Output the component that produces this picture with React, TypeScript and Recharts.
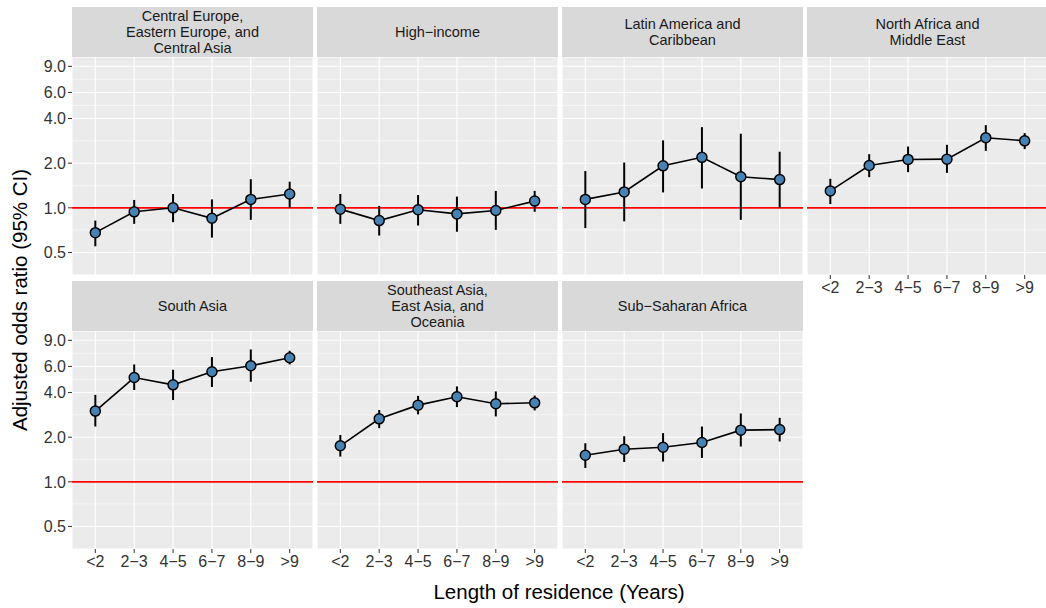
import React from 'react';
import {
  ComposedChart,
  Line,
  XAxis,
  YAxis,
  CartesianGrid,
  ReferenceLine,
  ErrorBar,
} from 'recharts';

// length of residence groups (x axis)
const CATEGORIES = ['<2', '2−3', '4−5', '6−7', '8−9', '>9'];
const Y_TICKS = [0.5, 1, 2, 4, 6, 9];
const Y_MINOR = [0.71, 1.41, 2.83, 4.9, 7.35];

// adjusted odds ratios and 95% CI per region
const ceeOR = [0.68, 0.94, 1.0, 0.85, 1.14, 1.24];
const ceeLo = [0.55, 0.78, 0.8, 0.63, 0.83, 1.0];
const ceeHi = [0.82, 1.13, 1.24, 1.14, 1.56, 1.5];

const hiOR = [0.98, 0.82, 0.97, 0.91, 0.96, 1.11];
const hiLo = [0.78, 0.65, 0.76, 0.69, 0.71, 0.94];
const hiHi = [1.24, 1.03, 1.22, 1.19, 1.3, 1.3];

const lacOR = [1.14, 1.28, 1.92, 2.19, 1.62, 1.55];
const lacLo = [0.73, 0.81, 1.27, 1.35, 0.83, 1.0];
const lacHi = [1.77, 2.02, 2.85, 3.5, 3.16, 2.39];

const nameOR = [1.3, 1.93, 2.12, 2.13, 2.97, 2.83];
const nameLo = [1.06, 1.61, 1.74, 1.72, 2.42, 2.49];
const nameHi = [1.57, 2.3, 2.59, 2.66, 3.61, 3.19];

const saOR = [3.0, 5.05, 4.51, 5.52, 6.06, 6.87];
const saLo = [2.36, 4.16, 3.56, 4.36, 4.73, 6.19];
const saHi = [3.86, 6.19, 5.7, 6.94, 7.81, 7.65];

const seaOR = [1.75, 2.66, 3.29, 3.75, 3.36, 3.41];
const seaLo = [1.48, 2.3, 2.85, 3.19, 2.76, 3.03];
const seaHi = [2.07, 3.05, 3.8, 4.4, 4.07, 3.82];

const ssaOR = [1.51, 1.66, 1.71, 1.84, 2.23, 2.25];
const ssaLo = [1.24, 1.36, 1.37, 1.45, 1.73, 1.87];
const ssaHi = [1.82, 2.03, 2.13, 2.36, 2.89, 2.7];

const PANELS = [
  { title: 'Central Europe,\nEastern Europe, and\nCentral Asia', or: ceeOR, lo: ceeLo, hi: ceeHi, col: 0, row: 0, showX: false },
  { title: 'High−income', or: hiOR, lo: hiLo, hi: hiHi, col: 1, row: 0, showX: false },
  { title: 'Latin America and\nCaribbean', or: lacOR, lo: lacLo, hi: lacHi, col: 2, row: 0, showX: false },
  { title: 'North Africa and\nMiddle East', or: nameOR, lo: nameLo, hi: nameHi, col: 3, row: 0, showX: true },
  { title: 'South Asia', or: saOR, lo: saLo, hi: saHi, col: 0, row: 1, showX: true },
  { title: 'Southeast Asia,\nEast Asia, and\nOceania', or: seaOR, lo: seaLo, hi: seaHi, col: 1, row: 1, showX: true },
  { title: 'Sub−Saharan Africa', or: ssaOR, lo: ssaLo, hi: ssaHi, col: 2, row: 1, showX: true },
];

const COL_LEFT = [72, 317, 562, 807];
const ROW_TOP = [57, 331];
const PANEL_W = 241;
const PANEL_H = 218;
const STRIP_H = 50;
const Y_AXIS_W = 44;
const X_AXIS_H = 30;

type PanelDef = (typeof PANELS)[number];

const Panel = ({ p }: { p: PanelDef }) => {
  const data = p.or.map((v, i) => ({
    x: i + 1,
    or: v,
    err: [v - p.lo[i], p.hi[i] - v],
  }));
  const isLeft = p.col === 0;
  const yW = isLeft ? Y_AXIS_W : 0;
  const xH = p.showX ? X_AXIS_H : 0;
  const top = ROW_TOP[p.row];

  return (
    <>
      <div
        style={{
          position: 'absolute',
          left: COL_LEFT[p.col],
          top: top - STRIP_H,
          width: PANEL_W,
          height: STRIP_H,
          background: '#D9D9D9',
          display: 'flex',
          alignItems: 'center',
          justifyContent: 'center',
          textAlign: 'center',
          whiteSpace: 'pre-line',
          fontSize: 14.5,
          lineHeight: '16px',
          color: '#1A1A1A',
        }}
      >
        {p.title}
      </div>
      <div style={{ position: 'absolute', left: COL_LEFT[p.col] - yW, top }}>
        <ComposedChart
          width={PANEL_W + yW}
          height={PANEL_H + xH}
          data={data}
          margin={{ top: 0, right: 0, bottom: 0, left: 0 }}
        >
          <CartesianGrid fill="#EBEBEB" stroke="#FFFFFF" strokeWidth={1.1} />
          <XAxis
            type="number"
            dataKey="x"
            domain={[0.4, 6.6]}
            ticks={[1, 2, 3, 4, 5, 6]}
            tickFormatter={(v: number) => CATEGORIES[v - 1]}
            height={xH}
            axisLine={false}
            tick={p.showX ? { fill: '#333', fontSize: 16 } : { fill: 'none', fontSize: 1 }}
            tickLine={p.showX ? { stroke: '#333' } : false}
            tickSize={4}
            tickMargin={3}
            interval={0}
          />
          <YAxis
            type="number"
            scale="log"
            domain={[0.3524, 10.4]}
            allowDataOverflow
            ticks={Y_TICKS}
            tickFormatter={(v: number) => v.toFixed(1)}
            width={yW}
            axisLine={false}
            tick={isLeft ? { fill: '#333', fontSize: 16 } : { fill: 'none', fontSize: 1 }}
            tickLine={isLeft ? { stroke: '#333' } : false}
            tickSize={4}
            tickMargin={2}
            interval={0}
          />
          {Y_MINOR.map((v) => (
            <ReferenceLine key={v} y={v} stroke="#FFFFFF" strokeWidth={0.5} />
          ))}
          <ReferenceLine y={1} stroke="#FF0000" strokeWidth={1.6} />
          <Line
            dataKey="or"
            type="linear"
            stroke="#000"
            strokeWidth={1.6}
            dot={{ r: 5, fill: '#4682B4', stroke: '#000', strokeWidth: 1.5 }}
            activeDot={false}
            isAnimationActive={false}
          >
            <ErrorBar dataKey="err" direction="y" width={0} stroke="#000" strokeWidth={2} />
          </Line>
        </ComposedChart>
      </div>
    </>
  );
};

const App = () => (
  <div
    style={{
      position: 'absolute',
      left: 0,
      top: 0,
      width: 1046,
      height: 608,
      overflow: 'hidden',
      background: '#FFFFFF',
      fontFamily: '"Liberation Sans", Arial, sans-serif',
    }}
  >
    {PANELS.map((p) => (
      <Panel key={p.title} p={p} />
    ))}
    <div
      style={{
        position: 'absolute',
        left: 20,
        top: 300,
        transform: 'translate(-50%, -50%) rotate(-90deg)',
        whiteSpace: 'nowrap',
        fontSize: 20.5,
      }}
    >
      Adjusted odds ratio (95% CI)
    </div>
    <div
      style={{
        position: 'absolute',
        left: 559,
        top: 592,
        transform: 'translate(-50%, -50%)',
        whiteSpace: 'nowrap',
        fontSize: 20.5,
      }}
    >
      Length of residence (Years)
    </div>
  </div>
);

export default App;
